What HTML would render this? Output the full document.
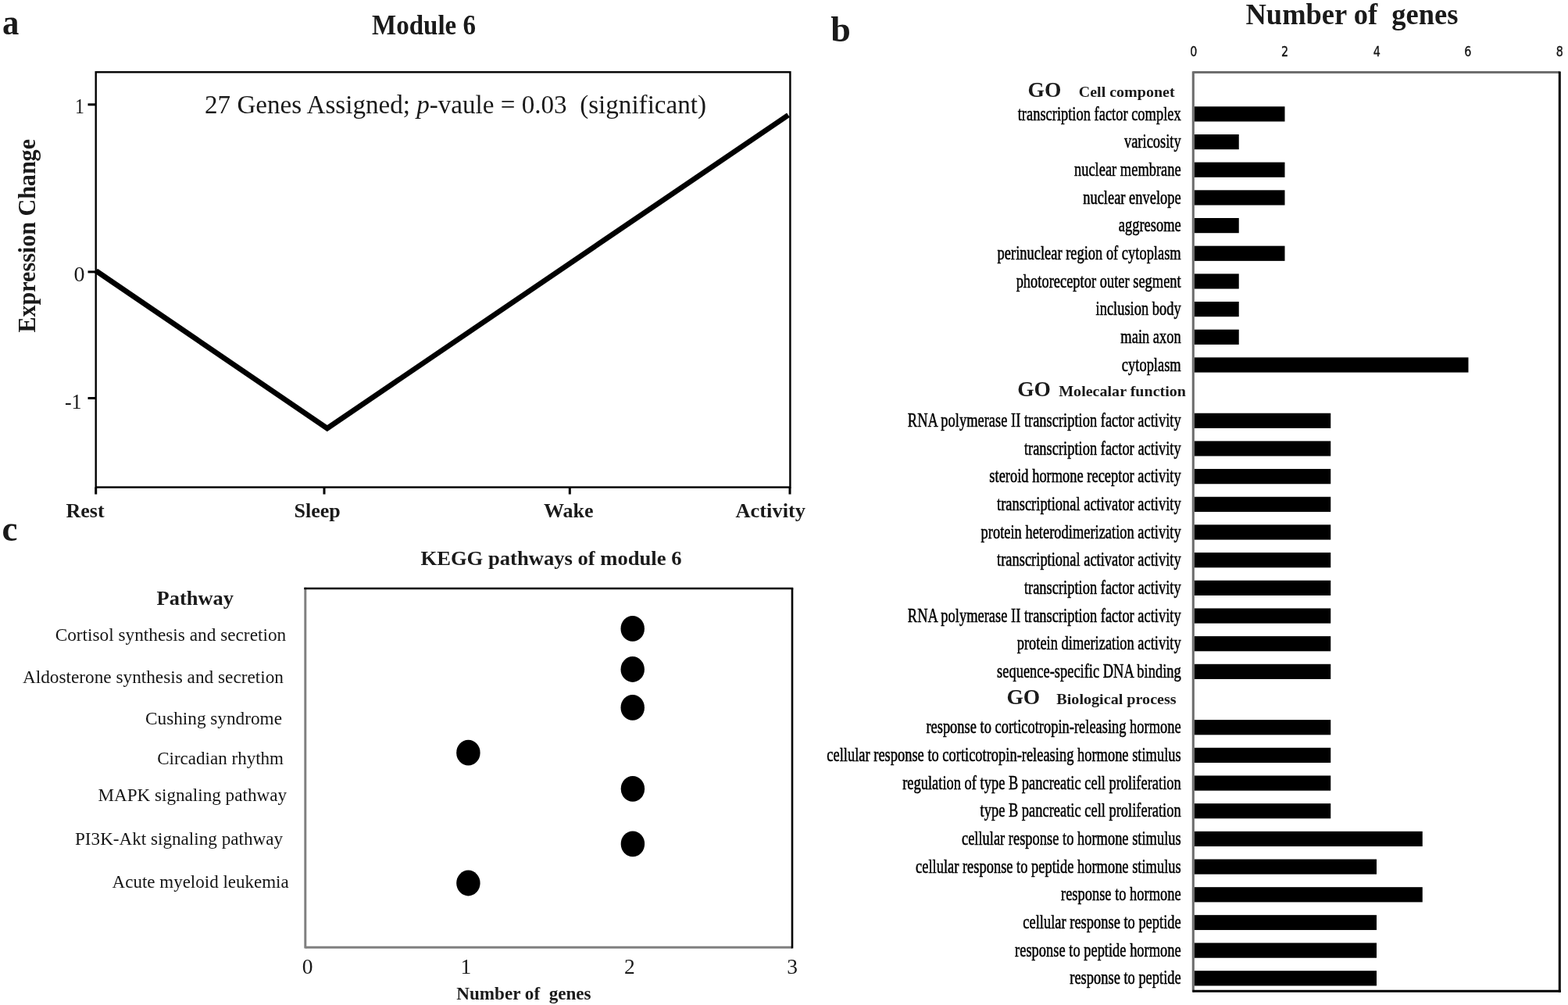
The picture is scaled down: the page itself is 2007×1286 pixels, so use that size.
<!DOCTYPE html>
<html><head><meta charset="utf-8"><title>Module 6 figure</title>
<style>
html,body{margin:0;padding:0;background:#fff;}
body{width:2007px;height:1286px;overflow:hidden;}
svg{display:block;font-family:"Liberation Serif", "Times New Roman", serif;}
.bl{}
</style></head><body>
<svg width="2007" height="1286" viewBox="0 0 2007 1286">
<rect width="2007" height="1286" fill="#fff"/>
<text x="0" y="0" font-size="47.5" font-weight="bold" fill="#1a1a1a" transform="translate(3.0 43.9) scale(0.9 1)">a</text>
<text x="476" y="43.7" font-size="35.6" font-weight="bold" textLength="133" lengthAdjust="spacingAndGlyphs" fill="#1a1a1a">Module 6</text>
<text x="262" y="144.5" font-size="33" textLength="642" lengthAdjust="spacingAndGlyphs" fill="#1a1a1a" xml:space="preserve">27 Genes Assigned; <tspan font-style="italic">p</tspan>-vaule = 0.03  (significant)</text>
<rect x="122.7" y="92.3" width="888.6999999999999" height="531.2" fill="none" stroke="#000" stroke-width="2.4"/>
<line x1="112.5" y1="133.8" x2="122.7" y2="133.8" stroke="#000" stroke-width="3"/>
<line x1="112.5" y1="347.9" x2="122.7" y2="347.9" stroke="#000" stroke-width="3"/>
<line x1="112.5" y1="509.5" x2="122.7" y2="509.5" stroke="#000" stroke-width="3"/>
<line x1="122.7" y1="623.5" x2="122.7" y2="632.5" stroke="#000" stroke-width="3"/>
<line x1="415" y1="623.5" x2="415" y2="632.5" stroke="#000" stroke-width="3"/>
<line x1="729.3" y1="623.5" x2="729.3" y2="632.5" stroke="#000" stroke-width="3"/>
<line x1="1011" y1="623.5" x2="1011" y2="632.5" stroke="#000" stroke-width="3"/>
<text x="0" y="0" font-size="28" text-anchor="end" fill="#1a1a1a" transform="translate(108.0 145) scale(0.85 1)">1</text>
<text x="108.5" y="360" font-size="28" text-anchor="end" fill="#1a1a1a">0</text>
<text x="0" y="0" font-size="28" text-anchor="end" fill="#1a1a1a" transform="translate(104.6 523) scale(0.93 1)">-1</text>
<polyline points="123,346.6 418.8,548.1 1009,147.2" fill="none" stroke="#000" stroke-width="6.8" stroke-linejoin="miter"/>
<text x="84.5" y="661.6" font-size="26" font-weight="bold" fill="#1a1a1a">Rest</text>
<text x="376.5" y="661.8" font-size="26" font-weight="bold" fill="#1a1a1a">Sleep</text>
<text x="696" y="661.6" font-size="26" font-weight="bold" fill="#1a1a1a">Wake</text>
<text x="941.5" y="661.6" font-size="26" font-weight="bold" textLength="89.5" lengthAdjust="spacingAndGlyphs" fill="#1a1a1a">Activity</text>
<text transform="translate(44.9,425.5) rotate(-90)" font-size="31.5" font-weight="bold" fill="#1a1a1a" textLength="247.5" lengthAdjust="spacingAndGlyphs">Expression Change</text>
<text x="0" y="0" font-size="47.3" font-weight="bold" fill="#1a1a1a" transform="translate(2.6 692.3) scale(0.95 1)">c</text>
<text x="538.5" y="723.1" font-size="25.7" font-weight="bold" textLength="334" lengthAdjust="spacingAndGlyphs" fill="#1a1a1a">KEGG pathways of module 6</text>
<text x="200.5" y="773.5" font-size="26" font-weight="bold" textLength="98.5" lengthAdjust="spacingAndGlyphs" fill="#1a1a1a">Pathway</text>
<line x1="390.8" y1="751.7" x2="390.8" y2="1213.5" stroke="#808080" stroke-width="3"/>
<line x1="390.8" y1="1212.2" x2="1014" y2="1212.2" stroke="#808080" stroke-width="3"/>
<line x1="389.3" y1="753" x2="1015.3" y2="753" stroke="#000" stroke-width="2.6"/>
<line x1="1014" y1="753" x2="1014" y2="1213.5" stroke="#000" stroke-width="2.6"/>
<text x="70.7" y="819.6" font-size="23.2" textLength="295.5" lengthAdjust="spacingAndGlyphs" fill="#151515">Cortisol synthesis and secretion</text>
<text x="28.9" y="873.6" font-size="23.2" textLength="334.1" lengthAdjust="spacingAndGlyphs" fill="#151515">Aldosterone synthesis and secretion</text>
<text x="186" y="926.8" font-size="23.2" textLength="175" lengthAdjust="spacingAndGlyphs" fill="#151515">Cushing syndrome</text>
<text x="201.2" y="978" font-size="23.2" textLength="161.8" lengthAdjust="spacingAndGlyphs" fill="#151515">Circadian rhythm</text>
<text x="125.4" y="1024.5" font-size="23.2" textLength="241.6" lengthAdjust="spacingAndGlyphs" fill="#151515">MAPK signaling pathway</text>
<text x="96" y="1080.5" font-size="23.2" textLength="266" lengthAdjust="spacingAndGlyphs" fill="#151515">PI3K-Akt signaling pathway</text>
<text x="143.6" y="1136.3" font-size="23.2" textLength="226.1" lengthAdjust="spacingAndGlyphs" fill="#151515">Acute myeloid leukemia</text>
<ellipse cx="809.7" cy="804.4" rx="15.2" ry="16.4" fill="#000"/>
<ellipse cx="809.7" cy="856.5" rx="15.2" ry="16.4" fill="#000"/>
<ellipse cx="809.7" cy="905.4" rx="15.2" ry="16.4" fill="#000"/>
<ellipse cx="599.4" cy="963.2" rx="15.2" ry="16.4" fill="#000"/>
<ellipse cx="809.9" cy="1009.4" rx="15.2" ry="16.4" fill="#000"/>
<ellipse cx="809.9" cy="1079.9" rx="15.2" ry="16.4" fill="#000"/>
<ellipse cx="599.4" cy="1130" rx="15.2" ry="16.4" fill="#000"/>
<text x="393.7" y="1246" font-size="27.5" text-anchor="middle" fill="#1a1a1a">0</text>
<text x="596.4" y="1246" font-size="27.5" text-anchor="middle" fill="#1a1a1a">1</text>
<text x="805.8" y="1246" font-size="27.5" text-anchor="middle" fill="#1a1a1a">2</text>
<text x="1014" y="1246" font-size="27.5" text-anchor="middle" fill="#1a1a1a">3</text>
<text x="584.3" y="1278.7" font-size="23" font-weight="bold" textLength="172.3" lengthAdjust="spacingAndGlyphs" fill="#1a1a1a" xml:space="preserve">Number of  genes</text>
<text x="1063.2" y="52.5" font-size="46" font-weight="bold" fill="#1a1a1a">b</text>
<text x="1594.5" y="30.6" font-size="37" font-weight="bold" textLength="272" lengthAdjust="spacingAndGlyphs" fill="#1a1a1a" xml:space="preserve">Number of  genes</text>
<text x="0" y="0" font-size="17.5" text-anchor="middle" font-family='"DejaVu Sans", "Liberation Sans", sans-serif' fill="#111" stroke="#111" stroke-width="0.35" transform="translate(1527.7 71.8) scale(0.82 1)">0</text>
<text x="0" y="0" font-size="17.5" text-anchor="middle" font-family='"DejaVu Sans", "Liberation Sans", sans-serif' fill="#111" stroke="#111" stroke-width="0.35" transform="translate(1644.5 71.8) scale(0.82 1)">2</text>
<text x="0" y="0" font-size="17.5" text-anchor="middle" font-family='"DejaVu Sans", "Liberation Sans", sans-serif' fill="#111" stroke="#111" stroke-width="0.35" transform="translate(1762.2 71.8) scale(0.82 1)">4</text>
<text x="0" y="0" font-size="17.5" text-anchor="middle" font-family='"DejaVu Sans", "Liberation Sans", sans-serif' fill="#111" stroke="#111" stroke-width="0.35" transform="translate(1878.9 71.8) scale(0.82 1)">6</text>
<text x="0" y="0" font-size="17.5" text-anchor="middle" font-family='"DejaVu Sans", "Liberation Sans", sans-serif' fill="#111" stroke="#111" stroke-width="0.35" transform="translate(1996.3 71.8) scale(0.82 1)">8</text>
<line x1="1527.3" y1="91.3" x2="1527.3" y2="1269.5" stroke="#6e6e6e" stroke-width="3.1"/>
<line x1="1527.3" y1="92.5" x2="1996.3" y2="92.5" stroke="#6e6e6e" stroke-width="3"/>
<line x1="1996.3" y1="91.5" x2="1996.3" y2="1269.7" stroke="#000" stroke-width="3"/>
<line x1="1526.4" y1="1268.2" x2="1997.8" y2="1268.2" stroke="#000" stroke-width="3"/>
<text x="1315.5" y="123.6" font-size="27.5" font-weight="bold" fill="#1a1a1a">GO</text>
<text x="1380.8" y="123.6" font-size="19" font-weight="bold" textLength="122.8" lengthAdjust="spacingAndGlyphs" fill="#1a1a1a">Cell componet</text>
<rect x="1528.9" y="136.3" width="115.6" height="19.2" fill="#000"/>
<rect x="1528.9" y="171.97" width="56.85" height="19.2" fill="#000"/>
<rect x="1528.9" y="207.65" width="115.6" height="19.2" fill="#000"/>
<rect x="1528.9" y="243.32" width="115.6" height="19.2" fill="#000"/>
<rect x="1528.9" y="279.0" width="56.85" height="19.2" fill="#000"/>
<rect x="1528.9" y="314.67" width="115.6" height="19.2" fill="#000"/>
<rect x="1528.9" y="350.35" width="56.85" height="19.2" fill="#000"/>
<rect x="1528.9" y="386.02" width="56.85" height="19.2" fill="#000"/>
<rect x="1528.9" y="421.69" width="56.85" height="19.2" fill="#000"/>
<rect x="1528.9" y="457.37" width="350.6" height="19.2" fill="#000"/>
<text x="1302.2" y="507.2" font-size="27.5" font-weight="bold" fill="#1a1a1a">GO</text>
<text x="1355.2" y="507.2" font-size="19" font-weight="bold" textLength="162.8" lengthAdjust="spacingAndGlyphs" fill="#1a1a1a">Molecalar function</text>
<rect x="1528.9" y="528.72" width="174.35" height="19.2" fill="#000"/>
<rect x="1528.9" y="564.39" width="174.35" height="19.2" fill="#000"/>
<rect x="1528.9" y="600.06" width="174.35" height="19.2" fill="#000"/>
<rect x="1528.9" y="635.74" width="174.35" height="19.2" fill="#000"/>
<rect x="1528.9" y="671.41" width="174.35" height="19.2" fill="#000"/>
<rect x="1528.9" y="707.09" width="174.35" height="19.2" fill="#000"/>
<rect x="1528.9" y="742.76" width="174.35" height="19.2" fill="#000"/>
<rect x="1528.9" y="778.44" width="174.35" height="19.2" fill="#000"/>
<rect x="1528.9" y="814.11" width="174.35" height="19.2" fill="#000"/>
<rect x="1528.9" y="849.78" width="174.35" height="19.2" fill="#000"/>
<text x="1288.4" y="901.4" font-size="27.5" font-weight="bold" fill="#1a1a1a">GO</text>
<text x="1352.3" y="901.4" font-size="19" font-weight="bold" textLength="153.4" lengthAdjust="spacingAndGlyphs" fill="#1a1a1a">Biological process</text>
<rect x="1528.9" y="921.13" width="174.35" height="19.2" fill="#000"/>
<rect x="1528.9" y="956.81" width="174.35" height="19.2" fill="#000"/>
<rect x="1528.9" y="992.48" width="174.35" height="19.2" fill="#000"/>
<rect x="1528.9" y="1028.15" width="174.35" height="19.2" fill="#000"/>
<rect x="1528.9" y="1063.83" width="291.85" height="19.2" fill="#000"/>
<rect x="1528.9" y="1099.5" width="233.1" height="19.2" fill="#000"/>
<rect x="1528.9" y="1135.18" width="291.85" height="19.2" fill="#000"/>
<rect x="1528.9" y="1170.85" width="233.1" height="19.2" fill="#000"/>
<rect x="1528.9" y="1206.53" width="233.1" height="19.2" fill="#000"/>
<rect x="1528.9" y="1242.2" width="233.1" height="19.2" fill="#000"/>
<g class="bl" transform="translate(1511.7 0) scale(0.71 1)" font-size="26" text-anchor="end" fill="#000" stroke="#000" stroke-width="0.55"><text x="0" y="153.6">transcription factor complex</text><text x="0" y="189.27">varicosity</text><text x="0" y="224.95">nuclear membrane</text><text x="0" y="260.62">nuclear envelope</text><text x="0" y="296.3">aggresome</text><text x="0" y="331.97">perinuclear region of cytoplasm</text><text x="0" y="367.65">photoreceptor outer segment</text><text x="0" y="403.32">inclusion body</text><text x="0" y="438.99">main axon</text><text x="0" y="474.67">cytoplasm</text><text x="0" y="546.02">RNA polymerase II transcription factor activity</text><text x="0" y="581.69">transcription factor activity</text><text x="0" y="617.36">steroid hormone receptor activity</text><text x="0" y="653.04">transcriptional activator activity</text><text x="0" y="688.71">protein heterodimerization activity</text><text x="0" y="724.39">transcriptional activator activity</text><text x="0" y="760.06">transcription factor activity</text><text x="0" y="795.74">RNA polymerase II transcription factor activity</text><text x="0" y="831.41">protein dimerization activity</text><text x="0" y="867.08">sequence-specific DNA binding</text><text x="0" y="938.43">response to corticotropin-releasing hormone</text><text x="0" y="974.11">cellular response to corticotropin-releasing hormone stimulus</text><text x="0" y="1009.78">regulation of type B pancreatic cell proliferation</text><text x="0" y="1045.45">type B pancreatic cell proliferation</text><text x="0" y="1081.13">cellular response to hormone stimulus</text><text x="0" y="1116.8">cellular response to peptide hormone stimulus</text><text x="0" y="1152.48">response to hormone</text><text x="0" y="1188.15">cellular response to peptide</text><text x="0" y="1223.83">response to peptide hormone</text><text x="0" y="1259.5">response to peptide</text></g>
</svg>
</body></html>
